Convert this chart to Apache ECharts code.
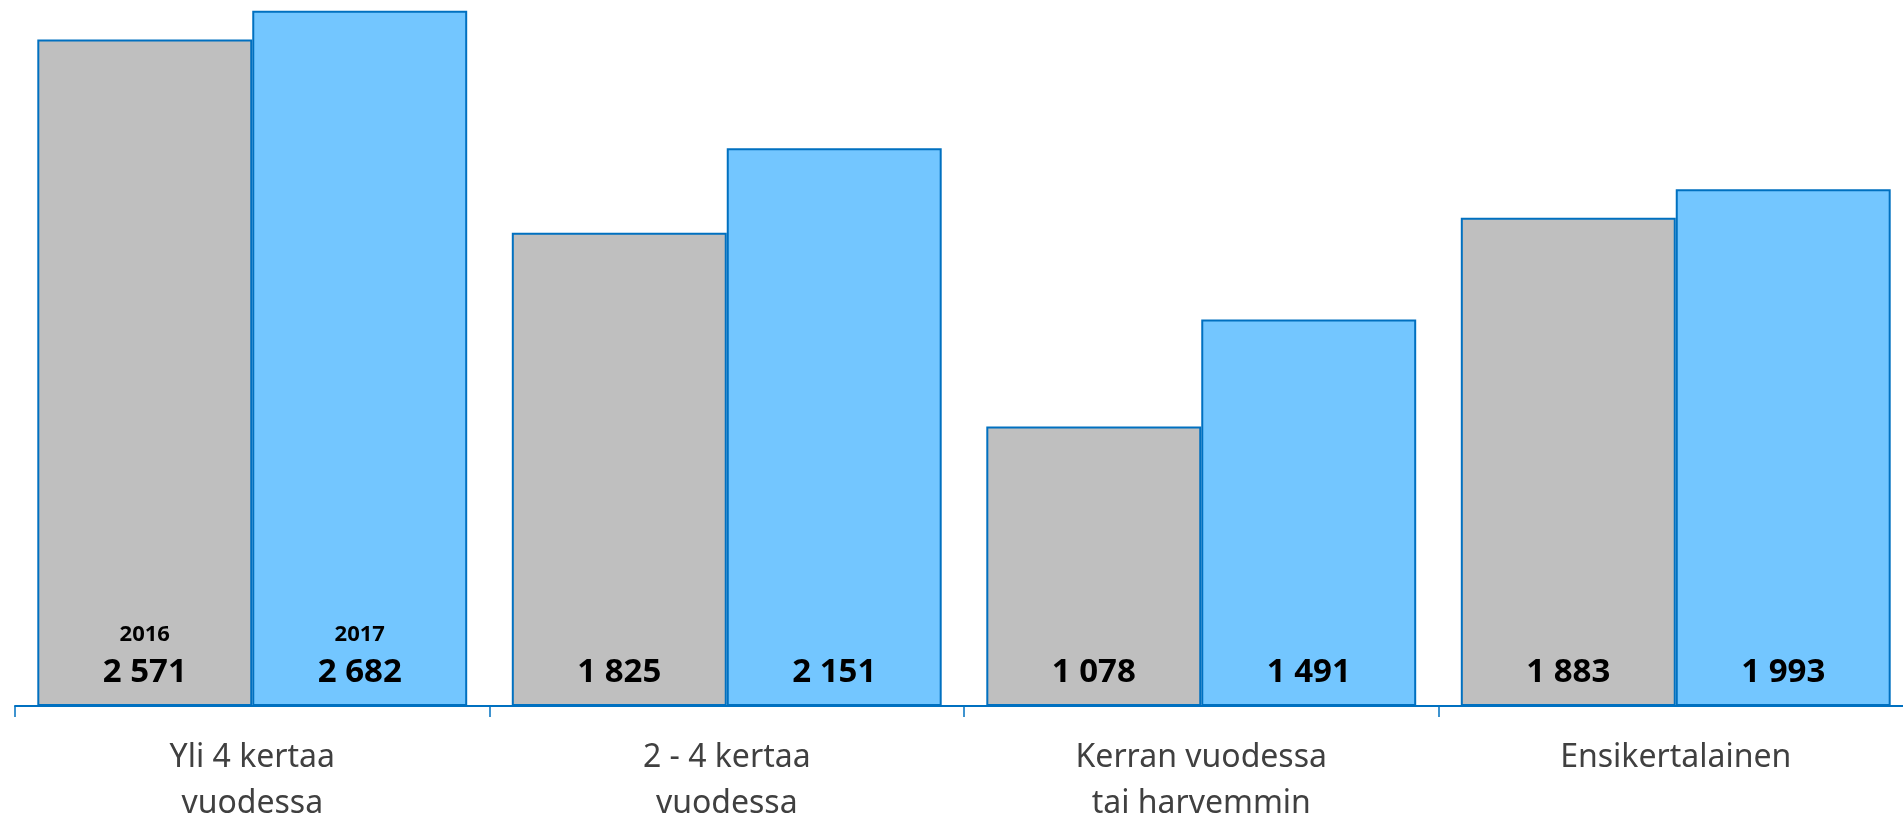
<!DOCTYPE html>
<html>
<head>
<meta charset="utf-8">
<title>Kävijät</title>
<script src="https://cdn.jsdelivr.net/npm/echarts@6/dist/echarts.min.js"></script>
<style>
  html, body { margin: 0; padding: 0; background: #fff; }
  #barChart { width: 1903px; height: 818px; }
</style>
</head>
<body>
<div id="barChart"></div>
<script>
// categories and values
const categories = ['Yli 4 kertaa\nvuodessa', '2 - 4 kertaa\nvuodessa', 'Kerran vuodessa\ntai harvemmin', 'Ensikertalainen']
const years = ['2016', '2017']
const values2016 = [2571, 1825, 1078, 1883]
const values2017 = [2682, 2151, 1491, 1993]

// 2 571 style numbers
function fmt(v) {
  return String(v).replace(/\B(?=(\d{3})+(?!\d))/g, ' ')
}

function makeLabel(year) {
  return {
    show: true,
    position: 'insideBottom',
    distance: 13,
    formatter: function (p) {
      if (p.dataIndex === 0) {
        return '{y|' + year + '}\n{v|' + fmt(p.value) + '}'
      }
      return '{v|' + fmt(p.value) + '}'
    },
    rich: {
      y: { fontFamily: 'Noto Sans', fontWeight: 'bold', fontSize: 22, lineHeight: 37, color: '#000' },
      v: { fontFamily: 'Noto Sans', fontWeight: 'bold', fontSize: 33, lineHeight: 40, color: '#000' }
    }
  }
}

let chart = echarts.init(document.getElementById('barChart'))

let option = {
  animation: false,
  grid: { left: 15, top: 6, width: 1898, height: 700, outerBoundsMode: 'none', containLabel: false },
  xAxis: {
    type: 'category',
    data: categories,
    axisLine: { show: true, lineStyle: { color: '#0070C0', width: 2 } },
    axisTick: { show: true, length: 11, lineStyle: { color: '#0070C0', width: 1.5 } },
    axisLabel: {
      margin: 29,
      fontFamily: 'Noto Sans',
      fontSize: 32,
      lineHeight: 46,
      color: '#404040'
    }
  },
  yAxis: { type: 'value', min: 0, max: 2700, show: false, splitLine: { show: false } },
  series: [
    {
      name: years[0],
      type: 'bar',
      data: values2016,
      barGap: '0%',
      barCategoryGap: '9.4%',
      itemStyle: { color: '#BFBFBF', borderColor: '#0070C0', borderWidth: 2 },
      label: makeLabel(years[0])
    },
    {
      name: years[1],
      type: 'bar',
      data: values2017,
      itemStyle: { color: '#73C6FF', borderColor: '#0070C0', borderWidth: 2 },
      label: makeLabel(years[1])
    }
  ]
}
chart.setOption(option)
</script>
</body>
</html>
